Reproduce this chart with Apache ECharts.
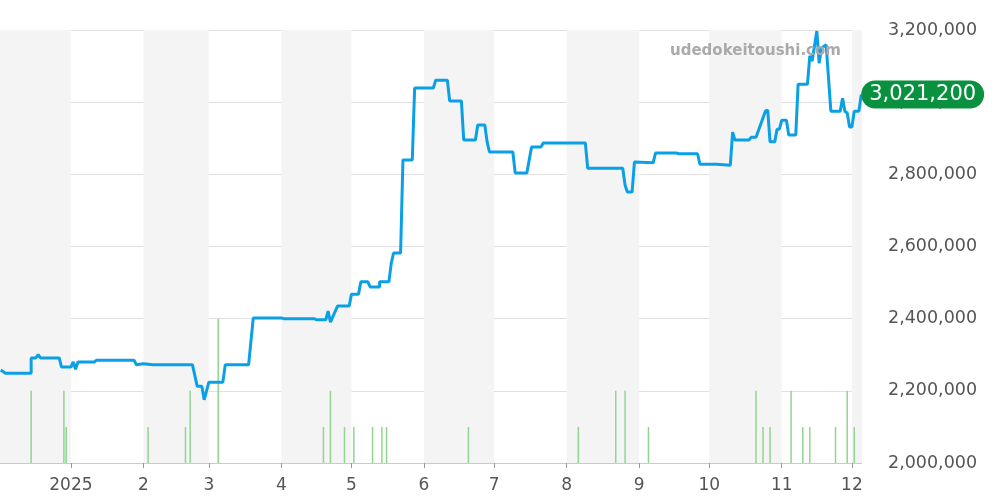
<!DOCTYPE html>
<html><head><meta charset="utf-8">
<script src="https://cdn.jsdelivr.net/npm/echarts@6/dist/echarts.min.js"></script>
<style>html,body{margin:0;padding:0;background:#fff}#c{width:1000px;height:500px}</style>
</head><body><div id="c"></div>
<script>
const priceDates = ['2024-12-02','2024-12-04','2024-12-15','2024-12-15','2024-12-17','2024-12-18','2024-12-19','2024-12-27','2024-12-28','2025-01-01','2025-01-02','2025-01-03','2025-01-04','2025-01-11','2025-01-12','2025-01-28','2025-01-29','2025-02-01','2025-02-05','2025-02-22','2025-02-24','2025-02-26','2025-02-27','2025-03-01','2025-03-07','2025-03-08','2025-03-18','2025-03-20','2025-04-01','2025-04-02','2025-04-15','2025-04-16','2025-04-20','2025-04-21','2025-04-22','2025-04-25','2025-04-30','2025-05-01','2025-05-04','2025-05-05','2025-05-08','2025-05-09','2025-05-13','2025-05-13','2025-05-17','2025-05-18','2025-05-19','2025-05-22','2025-05-23','2025-05-27','2025-05-28','2025-06-05','2025-06-06','2025-06-11','2025-06-12','2025-06-17','2025-06-18','2025-06-23','2025-06-24','2025-06-27','2025-06-28','2025-06-29','2025-07-09','2025-07-10','2025-07-15','2025-07-17','2025-07-21','2025-07-22','2025-08-09','2025-08-10','2025-08-25','2025-08-26','2025-08-27','2025-08-29','2025-08-30','2025-09-07','2025-09-08','2025-09-17','2025-09-18','2025-09-26','2025-09-27','2025-10-04','2025-10-04','2025-10-10','2025-10-11','2025-10-12','2025-10-18','2025-10-19','2025-10-21','2025-10-25','2025-10-26','2025-10-27','2025-10-29','2025-10-30','2025-10-31','2025-11-01','2025-11-03','2025-11-04','2025-11-07','2025-11-08','2025-11-12','2025-11-13','2025-11-14','2025-11-16','2025-11-17','2025-11-18','2025-11-20','2025-11-22','2025-11-26','2025-11-27','2025-11-28','2025-11-29','2025-11-30','2025-12-01','2025-12-02','2025-12-04','2025-12-05'];
const priceValues = [2258000,2249000,2249000,2291000,2291000,2300000,2291000,2291000,2266000,2266000,2280000,2260000,2280000,2280000,2285000,2285000,2272000,2275000,2272000,2272000,2213000,2213000,2175000,2224000,2224000,2272000,2272000,2402000,2402000,2400000,2400000,2397000,2397000,2421000,2390000,2435000,2435000,2468000,2468000,2502000,2502000,2488000,2488000,2502000,2502000,2554000,2582000,2582000,2840000,2840000,3039000,3039000,3061000,3061000,3003000,3003000,2895000,2895000,2937000,2937000,2890000,2862000,2862000,2804000,2804000,2876000,2876000,2887000,2887000,2817000,2817000,2770000,2751000,2751000,2834000,2832000,2859000,2859000,2857000,2857000,2828000,2828000,2825000,2825000,2917000,2895000,2895000,2903000,2903000,2975000,2978000,2890000,2890000,2925000,2925000,2950000,2950000,2909000,2909000,3050000,3050000,3128000,3114000,3197000,3108000,3150000,3159000,2975000,2975000,3011000,2975000,2970000,2931000,2931000,2975000,2975000,3021200];
const volDates = ['2024-12-15','2024-12-29','2024-12-30','2025-02-03','2025-02-19','2025-02-21','2025-03-05','2025-04-19','2025-04-22','2025-04-28','2025-05-02','2025-05-10','2025-05-14','2025-05-16','2025-06-20','2025-08-06','2025-08-22','2025-08-26','2025-09-05','2025-10-21','2025-10-24','2025-10-27','2025-11-05','2025-11-10','2025-11-13','2025-11-24','2025-11-29','2025-12-02'];
const volValues = [2,2,1,1,1,2,4,1,2,1,1,1,1,1,1,1,2,2,1,2,1,1,2,1,1,1,2,1];
const yTicks = [2000000,2200000,2400000,2600000,2800000,3000000,3200000];
const shadeBands = [['2024-11-30','2025-01-01'],['2025-02-01','2025-03-01'],['2025-04-01','2025-05-01'],['2025-06-01','2025-07-01'],['2025-08-01','2025-09-01'],['2025-10-01','2025-11-01'],['2025-12-01','2025-12-06']];

const chart = echarts.init(document.getElementById('c'));
chart.setOption({
  animation:false,
  grid:{left:0,right:138,top:30,bottom:37},
  graphic:[{type:'text',left:670,top:44,z:100,style:{text:'udedokeitoushi.com',fill:'#aaa',font:'bold 15px "DejaVu Sans"'}}],
  xAxis:{type:'time',min:'2024-12-02',max:'2025-12-05',splitNumber:12,
    axisLine:{lineStyle:{color:'#a6dca6',type:'dotted'}},
    axisTick:{show:true,length:5,lineStyle:{color:'#999'}},
    splitLine:{show:false},
    axisLabel:{color:'#555',fontSize:17,fontFamily:'DejaVu Sans',margin:14,
      formatter:function(v){const d=new Date(v);if(d.getDate()!==1)return '';const m=d.getMonth()+1;return m===1?String(d.getFullYear()):String(m);}}},
  yAxis:[{type:'value',position:'right',min:yTicks[0],max:yTicks[yTicks.length-1],interval:200000,
    axisLine:{show:false},axisTick:{show:false},
    splitLine:{lineStyle:{color:'#e0e0e0'}},
    axisLabel:{color:'#555',fontSize:17.5,fontFamily:'DejaVu Sans',margin:26,
      formatter:v=>v.toLocaleString('en-US')}},
    {type:'value',min:0,max:12,show:false,splitLine:{show:false}}],
  series:[
    {type:'line',z:0,zlevel:0,data:[],silent:true,
     markArea:{silent:true,z:0,itemStyle:{color:'#f4f4f4'},data:shadeBands.map(b=>[{xAxis:b[0]},{xAxis:b[1]}])}},
    {type:'bar',z:2,yAxisIndex:1,barWidth:1.5,itemStyle:{color:'#8fd68f'},
     data:volDates.map((d,i)=>[d,volValues[i]])},
    {type:'line',z:3,yAxisIndex:0,showSymbol:false,lineStyle:{color:'#0aa0e6',width:3},
     data:priceDates.map((d,i)=>[d,priceValues[i]]),
     endLabel:{show:true,formatter:p=>p.value[1].toLocaleString('en-US'),color:'#fff',fontSize:21,fontFamily:'DejaVu Sans',
       backgroundColor:'#0a9140',borderRadius:15,padding:[4,8,3,8],distance:0}}
  ]
});
</script></body></html>
